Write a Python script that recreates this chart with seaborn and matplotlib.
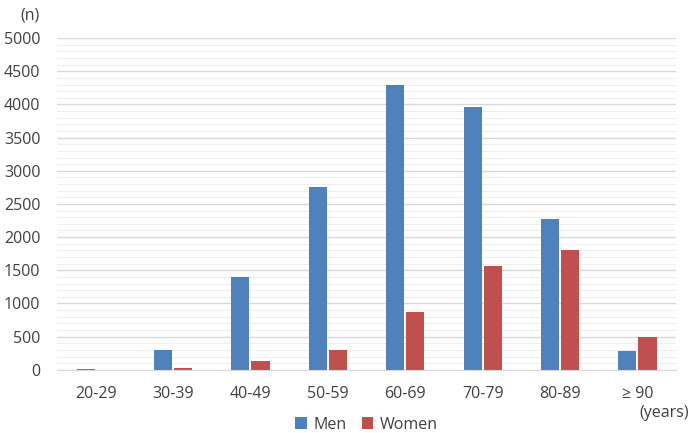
import matplotlib
matplotlib.use("Agg")
import matplotlib.pyplot as plt
import seaborn as sns
import pandas as pd
from matplotlib.ticker import MultipleLocator

age_groups = ["20-29", "30-39", "40-49", "50-59", "60-69", "70-79", "80-89", "\u2265 90"]
men = [15, 300, 1400, 2750, 4300, 3960, 2270, 280]
women = [4, 25, 135, 300, 870, 1560, 1810, 490]

df = pd.DataFrame({
    "age": age_groups * 2,
    "n": men + women,
    "sex": ["Men"] * len(age_groups) + ["Women"] * len(age_groups),
})

sns.set_style("white")
plt.rcParams["font.family"] = ["Open Sans", "DejaVu Sans"]

fig = plt.figure(figsize=(6.91, 4.33), dpi=100)
ax = fig.add_axes([0.0825, 0.146, 0.896, 0.766])

sns.barplot(data=df, x="age", y="n", hue="sex", order=age_groups,
            palette={"Men": "#4F81BD", "Women": "#C0504D"}, saturation=1,
            width=0.52, gap=0.1, linewidth=0, ax=ax, legend=True)

ax.set_ylim(0, 5000)
ax.yaxis.set_major_locator(MultipleLocator(500))
ax.yaxis.set_minor_locator(MultipleLocator(100))
ax.grid(axis="y", which="major", color="#d9d9d9", lw=1)
ax.grid(axis="y", which="minor", color="#efefef", lw=0.8)
ax.set_axisbelow(True)
for s in ["top", "right", "left"]:
    ax.spines[s].set_visible(False)
ax.spines["bottom"].set_color("#d9d9d9")
ax.tick_params(axis="both", which="both", length=0, labelsize=11.5, colors="#404040")
ax.tick_params(axis="x", pad=12)
ax.tick_params(axis="y", pad=12)
ax.set_xlabel("")
ax.set_ylabel("")

fig.text(0.03, 0.965, "(n)", fontsize=11.5, color="#404040", ha="left", va="center")
fig.text(0.925, 0.046, "(years)", fontsize=11.5, color="#404040", ha="left", va="center")

ax.legend(loc="center", bbox_to_anchor=(0.5, -0.165), bbox_transform=ax.transAxes,
          ncol=2, frameon=False, fontsize=11.5, handlelength=0.7, handleheight=0.7,
          columnspacing=1.0, handletextpad=0.4, labelcolor="#404040")

fig.savefig("out.png", dpi=100)
